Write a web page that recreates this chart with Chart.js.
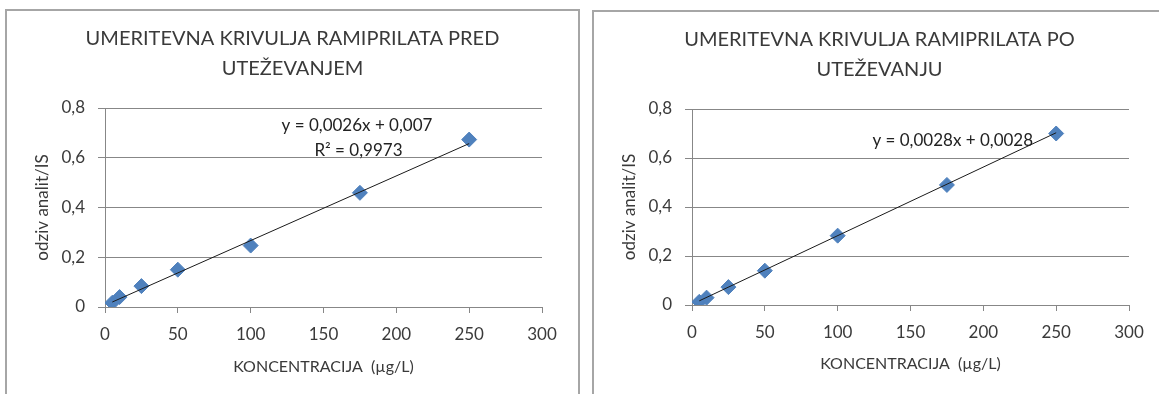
<!DOCTYPE html>
<html>
<head>
<meta charset="utf-8">
<script src="https://cdn.jsdelivr.net/npm/chart.js@4.4.1/dist/chart.umd.min.js"></script>
<style>
  body { margin: 0; background: #fff; overflow: hidden; width: 1159px; height: 394px; }
  .frame { position: absolute; border: 2px solid #a6a6a6; width: 571px; height: 400px; background: #fff; }
  #f1 { left: 5px; top: 9px; }
  #f2 { left: 592px; top: 10px; }
  canvas { display: block; }
</style>
</head>
<body>
<div class="frame" id="f1"><canvas id="chart1" width="571" height="383"></canvas></div>
<div class="frame" id="f2"><canvas id="chart2" width="571" height="383"></canvas></div>
<script>
// data
var koncentracija = [5, 10, 25, 50, 100, 175, 250];
var odzivPred = [0.017, 0.04, 0.084, 0.15, 0.247, 0.459, 0.673];
var odzivPo = [0.013, 0.03, 0.073, 0.14, 0.283, 0.49, 0.70];
// linear trendline end points (over the data range)
var trendX = [5, 250];
var trendPred = [0.02, 0.657];
var trendPo = [0.017, 0.703];

var naslovPred = ['UMERITEVNA KRIVULJA RAMIPRILATA PRED', 'UTEŽEVANJEM'];
var naslovPo = ['UMERITEVNA KRIVULJA RAMIPRILATA PO', 'UTEŽEVANJU'];
var enacbaPred = ['y = 0,0026x + 0,007', 'R² = 0,9973'];
var enacbaPo = ['y = 0,0028x + 0,0028'];

var FONT = 'Lato';
var txtCol = '#3a3a3a';
var gridCol = '#878787';
var markerCol = '#4f81bd';

function pts(xs, ys) {
  var out = [];
  for (var i = 0; i < xs.length; i++) out.push({x: xs[i], y: ys[i]});
  return out;
}

// draws the trendline equation text
var eqPlugin = {
  id: 'eq',
  afterDatasetsDraw: function(chart, args, opts) {
    var ctx = chart.ctx;
    var xs = chart.scales.x, ys = chart.scales.y;
    ctx.save();
    ctx.font = '17px ' + FONT;
    ctx.fillStyle = '#222';
    ctx.textAlign = 'center';
    ctx.textBaseline = 'middle';
    opts.labels.forEach(function(l) {
      ctx.fillText(l.text, xs.getPixelForValue(l.x), ys.getPixelForValue(l.y));
    });
    ctx.restore();
  }
};

function makeChart(id, naslov, odziv, trend, labels, bottomH, xTitlePad) {
  return new Chart(document.getElementById(id), {
    type: 'scatter',
    data: {
      datasets: [{
        data: pts(trendX, trend),
        showLine: true,
        borderColor: '#1a1a1a',
        borderWidth: 1,
        pointRadius: 0,
        fill: false
      }, {
        data: pts(koncentracija, odziv),
        pointStyle: 'rectRot',
        pointRadius: 7.5,
        backgroundColor: markerCol,
        borderColor: markerCol,
        borderWidth: 1
      }]
    },
    options: {
      responsive: false,
      animation: false,
      events: [],
      layout: { padding: 0 },
      plugins: {
        legend: { display: false },
        tooltip: { enabled: false },
        title: {
          display: true,
          text: naslov,
          color: txtCol,
          font: { family: FONT, size: 20, weight: 'normal', lineHeight: 1.5 },
          padding: { top: 13, bottom: 24 }
        },
        eq: { labels: labels }
      },
      scales: {
        x: {
          type: 'linear',
          min: 0, max: 300,
          afterFit: function(s) { s.height = bottomH; },
          ticks: { stepSize: 50, padding: 11, color: txtCol, font: { family: FONT, size: 17 } },
          grid: { drawOnChartArea: false, drawTicks: true, tickLength: 6, color: gridCol },
          border: { color: gridCol },
          title: {
            display: true,
            text: 'KONCENTRACIJA  (µg/L)',
            color: txtCol,
            font: { family: FONT, size: 16 },
            padding: { top: 0, bottom: xTitlePad }
          }
        },
        y: {
          type: 'linear',
          min: 0, max: 0.8,
          afterFit: function(s) { s.width = 98; },
          ticks: {
            stepSize: 0.2, padding: 13, color: txtCol, font: { family: FONT, size: 17 },
            callback: function(v) { return v === 0 ? '0' : v.toFixed(1).replace('.', ','); }
          },
          grid: { color: gridCol, tickLength: 7 },
          border: { color: gridCol },
          title: {
            display: true,
            text: 'odziv analit/IS',
            color: txtCol,
            font: { family: FONT, size: 17 },
            padding: { top: 25, bottom: 0 }
          }
        },
        y2: {
          position: 'right',
          min: 0, max: 1,
          afterFit: function(s) { s.width = 36; },
          ticks: { display: false },
          grid: { display: false },
          border: { display: false }
        }
      }
    },
    plugins: [eqPlugin]
  });
}

makeChart('chart1', naslovPred, odzivPred, trendPred, [
  { text: enacbaPred[0], x: 173, y: 0.73 },
  { text: enacbaPred[1], x: 174, y: 0.629 }
], 87, 18);

makeChart('chart2', naslovPo, odzivPo, trendPo, [
  { text: enacbaPo[0], x: 179, y: 0.673 }
], 90, 22);
</script>
</body>
</html>
